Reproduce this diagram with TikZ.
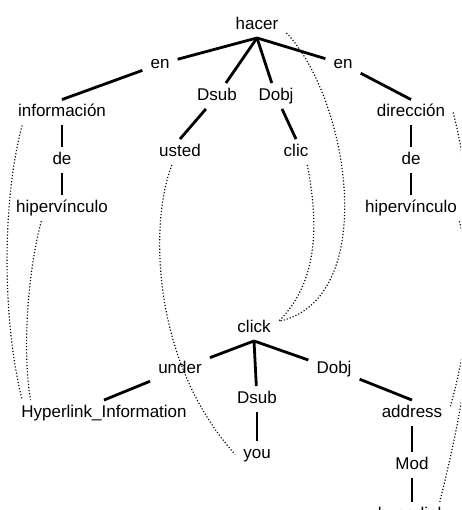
\documentclass[tikz,border=0pt]{standalone}
\usepackage{fontspec}
\setmainfont{Liberation Sans}
\usetikzlibrary{positioning}
\tikzset{
  word/.style = {inner xsep=8pt, inner ysep=5pt, text height=12pt, text depth=3.5pt,
                 font=\fontsize{17}{20}\selectfont},
  dep/.style  = {line width=2.8pt},
  link/.style = {line width=1.15pt, dash pattern=on 1.15pt off 2pt},
}
\begin{document}
\begin{tikzpicture}[x=1pt, y=-1pt, node distance=22pt]
  \useasboundingbox (0,0) rectangle (461,510);
  \clip (0,0) rectangle (461,510);
  % Spanish tree
  \node[word] (hacer) at (257,25) {hacer};
  \node[word] (enL) at (160,64) {en};
  \node[word] (dsubA) at (217,96) {Dsub};
  \node[word] (dobjA) at (276,96) {Dobj};
  \node[word] (enR) at (343,64) {en};
  \node[word] (informacion) at (62,112.5) {información};
  \node[word, below=of informacion] (deL) {de};
  \node[word, below=of deL] (hiperL) {hipervínculo};
  \node[word] (usted) at (180,152) {usted};
  \node[word] (clic) at (296,152) {clic};
  \node[word] (direccion) at (411,112.5) {dirección};
  \node[word, below=of direccion] (deR) {de};
  \node[word, below=of deR] (hiperR) {hipervínculo};
  \draw[dep] (hacer.south) -- (enL); \draw[dep] (hacer.south) -- (dsubA);
  \draw[dep] (hacer.south) -- (dobjA); \draw[dep] (hacer.south) -- (enR);
  \draw[dep] (enL) -- (informacion.north);
  \draw[dep] (informacion) -- (deL); \draw[dep] (deL) -- (hiperL);
  \draw[dep] (dsubA) -- (usted.north); \draw[dep] (dobjA) -- (clic.north);
  \draw[dep] (enR) -- (direccion.north);
  \draw[dep] (direccion) -- (deR); \draw[dep] (deR) -- (hiperR);
  % English tree
  \node[word] (click) at (254,328) {click};
  \node[word] (under) at (180,369) {under};
  \node[word] (dsubB) at (257,399) {Dsub};
  \node[word] (dobjB) at (334,369) {Dobj};
  \node[word] (hyperinfo) at (104,413) {Hyperlink\_Information};
  \node[word, below=29.5pt of dsubB] (you) {you};
  \node[word] (address) at (412,413) {address};
  \node[word, below=26pt of address] (modB) {Mod};
  \node[word, below=24pt of modB] (hyperlink) {hyperlink};
  \draw[dep] (click.south) -- (under); \draw[dep] (click.south) -- (dsubB);
  \draw[dep] (click.south) -- (dobjB);
  \draw[dep] (under) -- (hyperinfo.north); \draw[dep] (dsubB) -- (you);
  \draw[dep] (dobjB) -- (address.north);
  \draw[dep] (address) -- (modB); \draw[dep] (modB) -- (hyperlink);
  % alignment links
  \draw[link] (informacion.198) .. controls (2,200) and (2,320) .. (hyperinfo.171);
  \draw[link] (hiperL.212) .. controls (28,270) and (22,350) .. (hyperinfo.170);
  \draw[link] (usted.238) .. controls (150,220) and (150,360) .. (you.west);
  \draw[link] (clic.311) .. controls (318,220) and (320,280) .. (click.15);
  \draw[link] (hacer.345) .. controls (350,100) and (380,300) .. (click.15);
  \draw[link] (direccion.east) .. controls (475,200) and (480,300) .. (address.10);
  \draw[link] (hiperR.345) .. controls (480,300) and (470,380) .. (hyperlink.25);
\end{tikzpicture}
\end{document}
